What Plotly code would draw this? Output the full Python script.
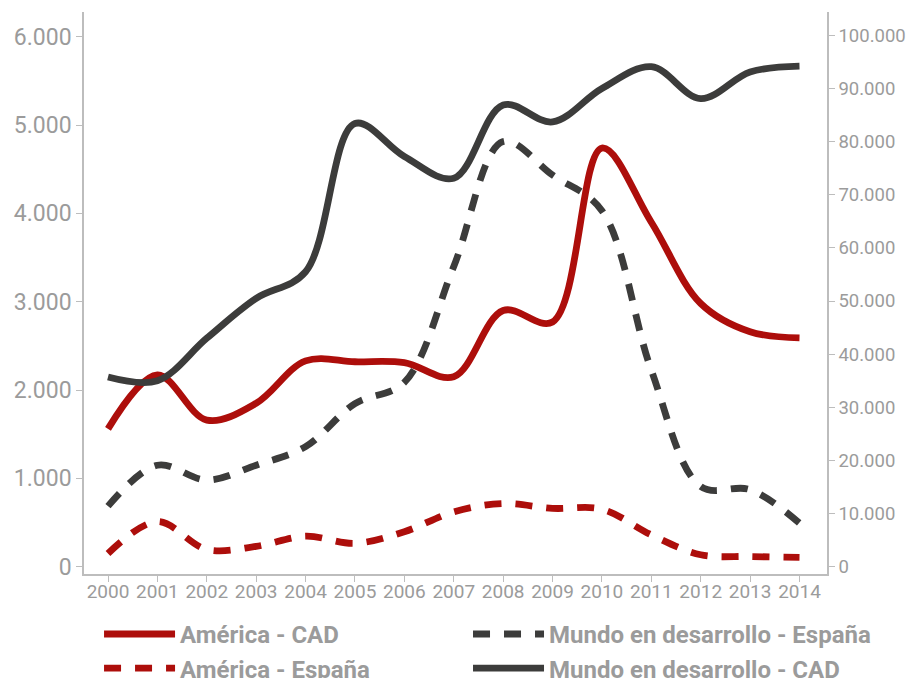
import plotly.graph_objects as go

years = list(range(2000, 2015))

america_cad = [1560, 2170, 1660, 1850, 2330, 2320, 2310, 2150, 2900, 2770, 4740, 3900, 2980, 2660, 2590]
america_espana = [150, 510, 195, 230, 345, 265, 396, 620, 715, 660, 650, 360, 135, 115, 105]
mundo_espana = [11400, 19100, 16300, 19100, 22600, 30700, 34700, 56500, 80000, 73700, 67000, 37000, 15100, 14500, 8200]
mundo_cad = [35700, 35000, 43000, 50500, 55500, 83400, 77200, 73100, 86900, 83700, 90000, 94100, 88100, 93100, 94200]

left_ticks = [0, 1000, 2000, 3000, 4000, 5000, 6000]
right_ticks = [0, 10000, 20000, 30000, 40000, 50000, 60000, 70000, 80000, 90000, 100000]

RED = "#ad0e0b"
DARK = "#3c3c3b"
GREY = "#9b9b9b"
AXIS = "#bdbdbd"
DASH = "17px,14px"
LW = 6.8

fig = go.Figure()
fig.add_trace(go.Scatter(x=years, y=america_cad, name="América - CAD", mode="lines", legend="legend",
                         line=dict(color=RED, width=LW, shape="spline", smoothing=1.0), yaxis="y"))
fig.add_trace(go.Scatter(x=years, y=america_espana, name="América - España", mode="lines", legend="legend",
                         line=dict(color=RED, width=LW, shape="spline", smoothing=1.0, dash=DASH), yaxis="y"))
fig.add_trace(go.Scatter(x=years, y=mundo_espana, name="Mundo en desarrollo - España", mode="lines", legend="legend2",
                         line=dict(color=DARK, width=LW, shape="spline", smoothing=1.0, dash=DASH), yaxis="y2"))
fig.add_trace(go.Scatter(x=years, y=mundo_cad, name="Mundo en desarrollo - CAD", mode="lines", legend="legend2",
                         line=dict(color=DARK, width=LW, shape="spline", smoothing=1.0), yaxis="y2"))

legend_style = dict(orientation="v", xref="container", yref="container", xanchor="left",
                    y=0.0975, yanchor="top", traceorder="normal",
                    font=dict(family="Roboto", size=24, color=GREY, weight="bold"),
                    itemwidth=71, tracegroupgap=0, bgcolor="rgba(0,0,0,0)")

fig.update_layout(
    width=907, height=678,
    margin=dict(l=84, r=80, t=12, b=104, autoexpand=False),
    paper_bgcolor="white", plot_bgcolor="white",
    separators=",.",
    font=dict(family="Roboto", color=GREY),
    showlegend=True,
    legend=dict(legend_style, x=0.1092),
    legend2=dict(legend_style, x=0.5160),
    xaxis=dict(range=[1999.514, 2014.557], tickvals=years, ticktext=[str(y) for y in years],
               showline=True, linecolor=AXIS, linewidth=1.5, ticks="outside", ticklen=6,
               tickcolor=AXIS, tickfont=dict(size=19, color=GREY), showgrid=False, zeroline=False,
               ticklabelstandoff=-7),
    yaxis=dict(range=[-83, 6280], tickvals=left_ticks, tickformat=",d",
               showline=True, linecolor=AXIS, linewidth=1.5, ticks="outside", ticklen=6,
               tickcolor=AXIS, tickfont=dict(size=23, color=GREY), showgrid=False, zeroline=False),
    yaxis2=dict(range=[-1374, 104390], tickvals=right_ticks, tickformat=",d", overlaying="y", side="right",
                showline=True, linecolor=AXIS, linewidth=1.5, ticks="outside", ticklen=6,
                tickcolor=AXIS, tickfont=dict(size=18.5, color=GREY), showgrid=False, zeroline=False),
)

fig.write_html("out.html", config={"displayModeBar": False},
               post_script="document.body.style.margin='0';document.body.style.overflow='hidden';")
